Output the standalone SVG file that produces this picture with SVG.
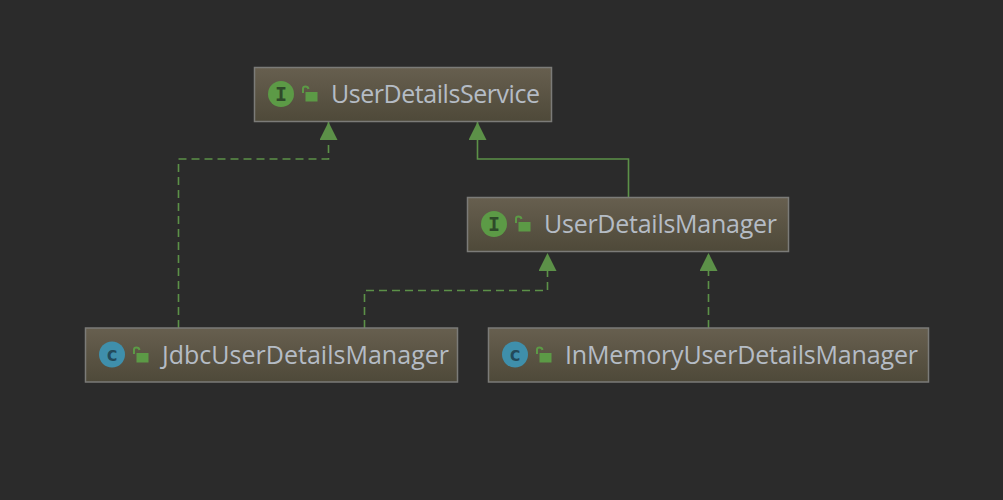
<svg xmlns="http://www.w3.org/2000/svg" width="1003" height="500" viewBox="0 0 1003 500">
<defs>
<linearGradient id="nodeFill" x1="0" y1="0" x2="0" y2="1"><stop offset="0" stop-color="#675f4f"/><stop offset="1" stop-color="#4e4939"/></linearGradient>
<marker id="tri" markerUnits="userSpaceOnUse" markerWidth="18" markerHeight="18" refX="18" refY="9" orient="auto"><path d="M0,0 L18,9 L0,18 Z" fill="#5c9148"/></marker>
<g id="lock"><path d="M-3,-3 V-7.500 Q-3,-9.500 -0.500,-9.500 Q2,-9.500 2.500,-7" fill="none" stroke="#5c9a46" stroke-width="2"/><rect x="-0.500" y="-4" width="12" height="9.500" fill="#5c9a46"/></g>
</defs>
<style>
.box{fill:url(#nodeFill);stroke:#7b7b78;stroke-width:1.5}
.lbl{font-family:"Open Sans","Liberation Sans",sans-serif;font-size:25px;fill:#b5bcc5}
.edge{fill:none;stroke:#5c9148;stroke-width:1.6;marker-end:url(#tri)}
.dash{stroke-dasharray:8 5}
.i{fill:#5c9a46}.c{fill:#3f8fab}
.gl{font-family:"DejaVu Sans Mono","Liberation Mono",monospace;font-size:20px;font-weight:bold;text-anchor:middle}
.gi{fill:#2f4a2a}.gc{fill:#234a5a}
</style>
<rect width="1003" height="500" fill="#2b2b2b"/>
<g id="connectors">
<path class="edge dash" d="M178.500,328 V159 H328.500 V122"/>
<path class="edge" d="M628.500,197 V159 H477.500 V122"/>
<path class="edge dash" d="M364.500,328 V290.500 H547.500 V253"/>
<path class="edge dash" d="M708.500,328 V253"/>
</g>
<g id="UserDetailsService">
<rect class="box" x="254.500" y="67.500" width="297" height="54"/>
<circle class="i" cx="281" cy="94" r="13"/><text class="gl gi" x="281" y="101">I</text>
<use href="#lock" x="306" y="96"/>
<text class="lbl" x="331" y="103" textLength="209">UserDetailsService</text>
</g>
<g id="UserDetailsManager">
<rect class="box" x="467.500" y="197.500" width="321" height="54"/>
<circle class="i" cx="494" cy="224" r="13"/><text class="gl gi" x="494" y="231">I</text>
<use href="#lock" x="519" y="226"/>
<text class="lbl" x="544" y="233" textLength="233">UserDetailsManager</text>
</g>
<g id="JdbcUserDetailsManager">
<rect class="box" x="85.500" y="328" width="372" height="54"/>
<circle class="c" cx="112" cy="354.500" r="13"/><text class="gl gc" x="112" y="360.500">c</text>
<use href="#lock" x="137" y="357"/>
<text class="lbl" x="162" y="364" textLength="287">JdbcUserDetailsManager</text>
</g>
<g id="InMemoryUserDetailsManager">
<rect class="box" x="488.500" y="328" width="440" height="54"/>
<circle class="c" cx="515" cy="354.500" r="13"/><text class="gl gc" x="515" y="360.500">c</text>
<use href="#lock" x="540" y="357"/>
<text class="lbl" x="565" y="364" textLength="353">InMemoryUserDetailsManager</text>
</g>
</svg>
